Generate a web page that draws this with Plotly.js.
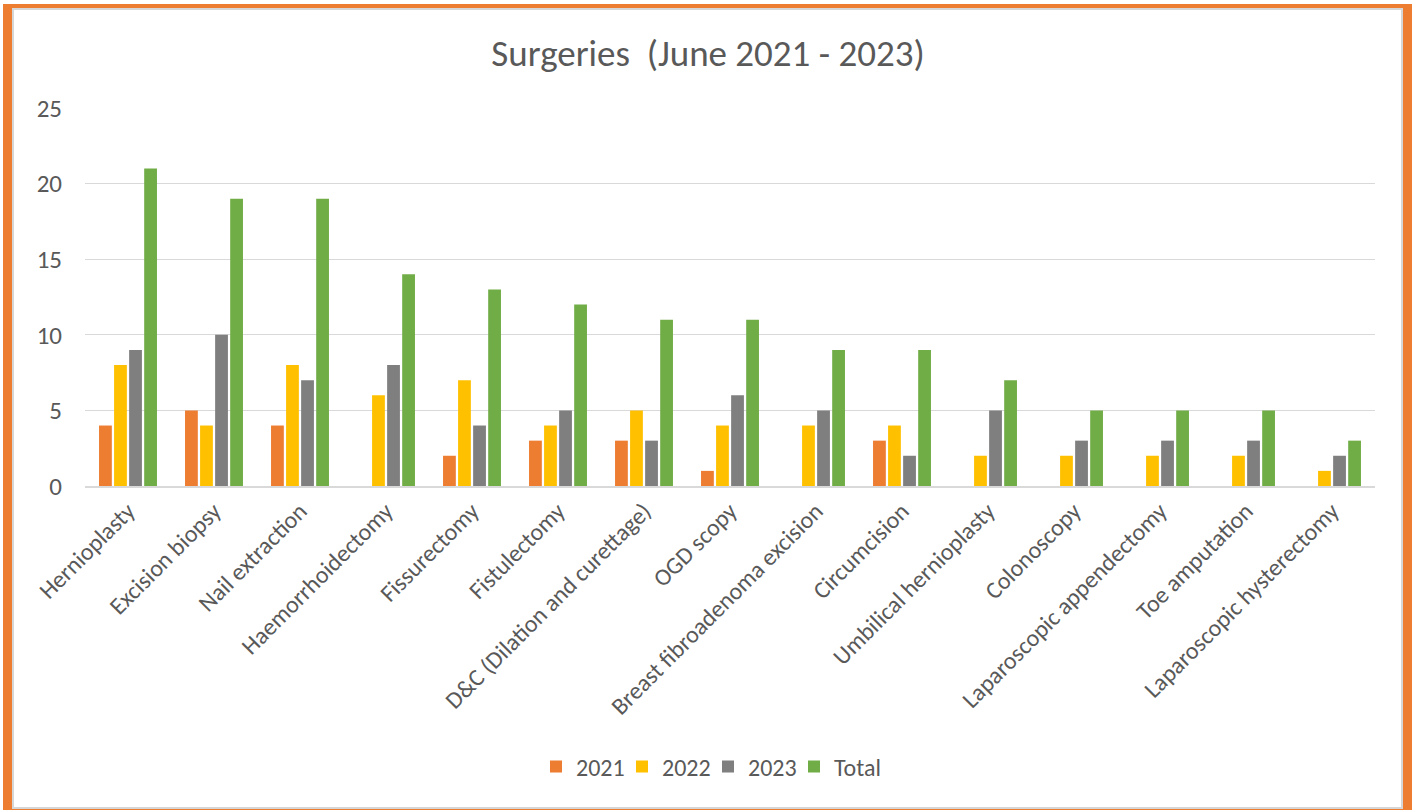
<!DOCTYPE html>
<html>
<head>
<meta charset="utf-8">
<script src="https://cdn.plot.ly/plotly-3.0.1.min.js"></script>
<style>
  html, body { margin: 0; padding: 0; background: #fff; }
  #chart { position: absolute; left: 0; top: 0; width: 1416px; height: 810px; }
  #frame { position: absolute; left: 3px; top: 4px; width: 1409px; height: 810px; box-sizing: border-box;
           border-style: solid; border-color: #ED7D31; border-width: 4px 9px 5px 9px; pointer-events: none; }
  #inner { position: absolute; left: 0; top: 0; right: 0; bottom: 0; border: 2px solid #D6D6D6; pointer-events: none; }
</style>
</head>
<body>
<div id="chart"></div>
<div id="frame"><div id="inner"></div></div>
<script>
const categories = [
  "Hernioplasty", "Excision biopsy", "Nail extraction", "Haemorrhoidectomy", "Fissurectomy",
  "Fistulectomy", "D&C (Dilation and curettage)", "OGD scopy", "Breast fibroadenoma excision",
  "Circumcision", "Umbilical hernioplasty", "Colonoscopy", "Laparoscopic appendectomy",
  "Toe amputation", "Laparoscopic hysterectomy"
];
const y2021  = [4, 5, 4, null, 2, 3, 3, 1, null, 3, null, null, null, null, null];
const y2022  = [8, 4, 8, 6, 7, 4, 5, 4, 4, 4, 2, 2, 2, 2, 1];
const y2023  = [9, 10, 7, 8, 4, 5, 3, 6, 5, 2, 5, 3, 3, 3, 2];
const yTotal = [21, 19, 19, 14, 13, 12, 11, 11, 9, 9, 7, 5, 5, 5, 3];
const seriesNames = ["2021", "2022", "2023", "Total"];
const yTicks = [0, 5, 10, 15, 20, 25];

const colors = ["#ED7D31", "#FFC000", "#7F7F7F", "#70AD47"];
const values = [y2021, y2022, y2023, yTotal];
const font = "Carlito, Calibri, 'Liberation Sans', Arial, sans-serif";

const traces = values.map((v, i) => ({
  type: "bar",
  name: seriesNames[i],
  x: categories,
  y: v,
  marker: { color: colors[i], line: { width: 0 } },
  hoverinfo: "x+y+name"
}));

const layout = {
  width: 1416, height: 810,
  paper_bgcolor: "rgba(0,0,0,0)",
  plot_bgcolor: "rgba(0,0,0,0)",
  margin: { l: 85, r: 41, t: 108, b: 324 },
  barmode: "group",
  bargap: 0.30,
  bargroupgap: 0.15,
  font: { family: font, color: "#595959" },
  title: {
    text: "Surgeries  (June 2021 - 2023)",
    x: 0.5, xref: "container", xanchor: "center",
    y: 1 - 53 / 810, yref: "container", yanchor: "middle",
    font: { size: 37, color: "#595959", family: font }
  },
  xaxis: {
    type: "category",
    tickangle: -45,
    tickfont: { size: 24, color: "#595959" },
    showgrid: false,
    showline: true, linecolor: "#D9D9D9", linewidth: 1.5,
    ticks: "", automargin: false
  },
  yaxis: {
    range: [0, 25],
    tickvals: yTicks,
    ticktext: yTicks.map(String),
    tickfont: { size: 25, color: "#595959" },
    gridcolor: "#D9D9D9", gridwidth: 1.3,
    zeroline: false, showline: false,
    ticks: "", ticklabelstandoff: 22, automargin: false
  },
  legend: {
    orientation: "h",
    x: 0.5, xref: "container", xanchor: "center",
    y: 1 - 767 / 810, yref: "container", yanchor: "middle",
    font: { size: 24, color: "#595959" },
    itemwidth: 30, traceorder: "normal",
    entrywidth: 41, entrywidthmode: "pixels"
  },
  showlegend: true
};

Plotly.newPlot("chart", traces, layout, { displayModeBar: false, staticPlot: true });
</script>
</body>
</html>
